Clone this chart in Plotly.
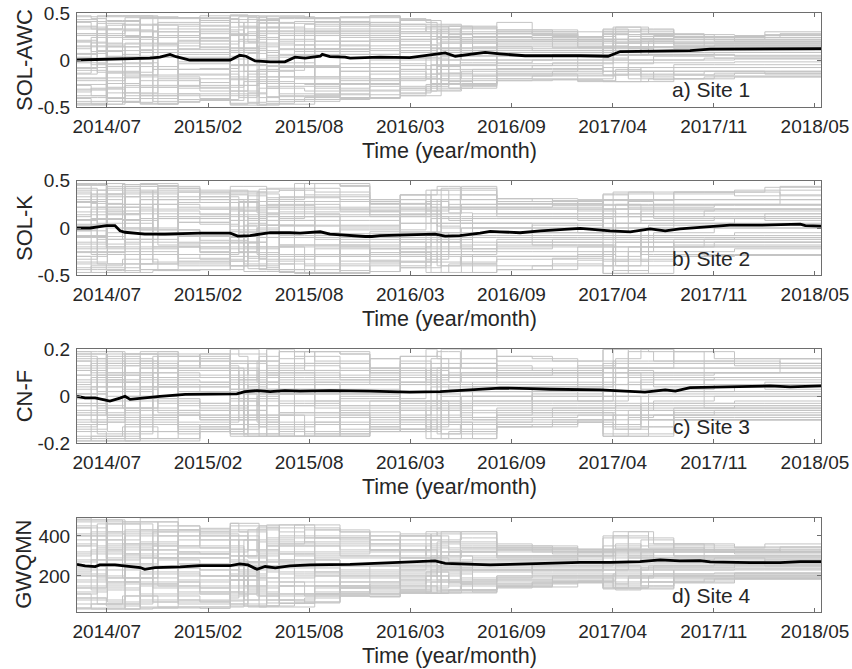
import plotly.graph_objects as go

W, H = 852, 669

# ---------------- shared time axis (day index from series start) ----------------
break_days = [0, 28, 58, 90, 125, 160, 200, 243, 303, 320, 338, 356, 375, 400, 450, 520,
              579, 639, 690, 712, 735, 758, 782, 830, 900, 990, 1040, 1065, 1090, 1115,
              1140, 1180, 1260, 1360]
coarse_break_days = [0, 60, 125, 200, 243, 303, 360, 400, 470, 579, 639, 720, 830, 940, 1040,
                     1180, 1300]
mid_break_days = [0, 40, 95, 150, 243, 303, 330, 375, 430, 520, 579, 639, 700, 760, 830, 990,
                  1060, 1130, 1240, 1390]
end_day = 1471
tick_days = [59, 259, 459, 659, 859, 1059, 1259, 1459]
tick_labels = ["2014/07", "2015/02", "2015/08", "2016/03", "2016/09", "2017/04", "2017/11", "2018/05"]

# ---------------- Site 1 : SOL-AWC (members in 1/100) ----------------
awc_members_x100 = [
    [-46, 40, -20, 12, 47, -34, 3, -8, 28, -41, 20, -27, 35, -14],
    [-46, 33, -20, 18, 44, -30, -5, -8, 28, -47, 9, -38, 35, 24],
    [-25, 33, 42, 18, -44, -30, -5, 14, 47, -47, 9, -12, 26, 3],
    [-25, 38, 42, -35, -44, -16, 22, 14, 47, -3, 31, -12, 6, -45],
    [-38, 38, 8, -35, 46, -16, 22, -29, 47, -3, 31, 15, -46, 1],
    [-38, 26, 8, -20, 46, 40, 33, -29, -47, -10, 17, 15, -46, 3],
    [-30, 26, -15, -20, 45, 40, 33, -42, 20, -10, 6, -4, -36, 12],
    [-30, 30, -15, -24, 44, 37, 17, -42, 23, -9, 6, -4, -36, 11],
    [-47, 30, -15, 40, 44, -20, 17, -42, 4, -9, 27, -33, 10, 48],
    [-47, 12, -27, 40, 36, -20, 46, -5, 4, 22, 27, -33, -40, 48],
    [-35, 12, -27, 45, 36, 7, 46, -5, -45, 22, 30, -15, -40, 19],
    [-35, 42, -10, 45, 24, 7, -48, 31, -45, 14, 30, -15, -25, 19],
    [-44, 42, -10, 35, 24, -30, -48, 31, -18, 14, 3, 47, -25, 8],
    [-44, 20, 45, 35, -6, -30, -38, 28, -18, 12, 3, 47, -25, -11],
    [-40, 20, 45, 30, -6, -33, -38, 28, -18, 12, 38, 44, -26, 5],
    [-40, 15, 46, 30, -12, -33, -22, 38, -4, 24, 38, 6, -26, -41],
    [-40, 15, 46, 30, -12, -33, -22, 38, -4, 24, 40, 6, -26, 47],
    [-36, 22, 44, 10, -12, -30, -22, 38, -4, 30, -18, 3, 16, -38],
    [-26, 22, 40, 10, -20, -33, 5, 30, -10, 35, -18, 3, 16, -28],
    [-26, 32, 18, -7, -20, 12, 5, 30, -32, 35, 24, -14, 2, -28],
    [-14, 32, 18, -7, 8, 12, -30, 27, -32, 22, 24, -14, 36, -23],
    [-14, 10, 30, 18, 8, -27, -30, 27, -3, 22, 34, -20, 36, -23],
    [-25, 10, 30, 18, 25, -27, -10, 14, -3, 28, 34, -20, 5, -17],
    [-22, 8, 30, 16, 25, -14, -10, 14, -3, 28, 40, -20, 5, 20],
    [-21, 8, 27, 16, 22, -14, -6, 10, 0, 30, 26, -17, 5, 20],
    [-22, 8, 20, 16, 22, -14, -6, 10, 0, 25, 13, -17, 5, 20],
    [-22, 15, 20, 28, 22, -8, -16, 10, 2, 25, 13, -17, 33, 5],
    [-10, 15, 30, 28, 8, -8, -16, 22, 2, 18, 35, -23, 33, 5],
    [-10, 25, 30, 12, 8, -20, -4, 22, 14, 18, 35, -23, 20, -12],
    [-18, 25, 33, 12, 20, -20, -4, 6, 14, 28, 23, -8, 20, -12],
    [-18, 10, 33, 25, 20, -12, 4, 6, 26, 28, 23, -8, 14, -21],
    [-20, 10, 27, 25, 18, -12, 4, 6, 22, 24, 15, -5, 14, -16],
    [-17, 12, 25, 20, 18, -12, 2, 8, 22, 24, 15, -5, 16, -14],
    [-17, 12, 27, 20, 18, -15, 2, 8, 30, 24, 15, -5, 16, -14],
]
awc_coarse_x100 = [
    [-44, -32, 41, 7, -19, 26, -3, 46, -38, 14, -11, 33, -26, 19, -48, 2],
    [-44, 17, 41, -29, -19, 26, 37, 46, -7, 14, -41, 33, -14, 4, -35, 24],
    [-22, 17, 30, -29, 45, -36, 37, 11, -7, 3, -41, -16, 44, 4, -47, 24],
    [-22, 36, 30, -10, 45, -36, -2, 11, -45, 21, 8, -16, 44, -28, 15, 26],
    [-33, 36, 20, -10, 42, -38, -2, 28, -43, 21, 8, -16, 47, -27, 13, 33],
    [-33, 10, 20, 43, -46, -38, 28, -6, 35, -21, 8, 47, -12, -27, 13, 1],
    [-47, 10, 39, 43, -18, -30, 28, -6, 35, -21, 16, 22, -12, 46, -40, 1],
    [-47, -25, 39, 11, -18, 31, -36, 45, 6, -8, 16, 22, -42, 46, 26, -3],
    [-37, -25, 12, 11, 40, 31, -36, 45, 6, -18, -42, 20, 26, 36, -8, -30],
    [-37, -15, 12, 22, 40, 31, -41, 47, 6, -20, -28, 20, 26, 36, -8, 0],
    [-30, -15, 36, 22, 2, 28, -38, 42, 13, -20, -28, -6, 16, 33, -10, 8],
    [-30, 28, 36, 0, -22, 10, 18, -10, 13, 33, -17, -6, 24, 4, -26, 20],
    [-16, 28, 24, 0, -22, 10, 18, -10, 32, 14, -17, -6, 24, 4, -9, 20],
    [-16, 22, 24, 6, -21, 10, 18, -10, 25, 14, -12, -3, 13, 4, -9, 20],
    [-16, 30, 18, 6, -23, 27, 10, -12, 32, 14, -12, -3, 13, 22, 0, 20],
    [-12, 24, 18, 6, -20, 27, 10, -16, 25, 12, -8, -3, 13, 22, 0, 16],
    [-12, 24, 18, 4, -18, 26, 10, -14, 22, 12, -8, -2, 13, 20, 1, 16],
]
awc_mid_x100 = [
    [-40, 28, -9, 43, -22, 15, -47, 6, 36, -31, 21, -15],
    [-40, 28, 32, -4, -22, 15, -47, 47, 10, -31, -13, 39],
    [-27, 45, 32, -4, 18, -38, -18, 47, 10, -45, -13, 25],
    [-27, 45, 3, 38, 18, -38, -18, 24, -44, 30, 8, -10],
    [-20, 40, 3, 32, 14, -41, -29, 24, -43, 45, 8, -10],
    [-36, 40, 26, 32, -5, 47, -29, 12, -43, -18, 8, -48],
    [-36, 18, 26, -12, -5, 47, 40, 12, -23, -18, 34, -48],
    [-7, 18, 44, -12, -39, 30, 40, -28, -23, 5, 34, -46],
    [-7, 33, 44, 16, -39, 30, -20, -28, 9, 5, -44, 41],
    [-32, 33, 20, 16, -12, 45, -20, -40, 9, 28, -25, 41],
    [-32, 33, 20, 10, -12, 45, -20, -40, 2, 28, -25, 36],
    [-32, 25, 20, 10, -35, 38, 0, -20, 2, 43, -10, 30],
    [-15, 25, -25, 36, -5, 38, 0, -20, 22, 12, -33, 30],
    [-15, 8, -25, 20, -5, 28, 35, -12, 22, 12, -28, 0],
    [-15, 8, -20, 20, 12, 28, 30, -12, -4, 22, 0, 32],
    [-23, 8, -20, 20, 12, 22, 30, 0, -4, 22, 5, 14],
    [-23, 18, -8, 35, 12, 22, -15, 0, 27, 5, 5, 14],
    [-20, 18, -8, 28, 8, 22, -15, 0, 27, 5, 14, 20],
    [-18, 14, -8, 24, 8, 20, -12, 2, 22, 5, 12, 18],
    [-18, 14, -8, 28, 8, 20, -12, 2, 22, 5, 12, 18],
]
awc_mean_days = [0, 95, 144, 164, 184, 196, 223, 303, 322, 334, 352, 382, 411, 431, 451, 481, 485,
                 500, 530, 540, 599, 658, 678, 728, 748, 807, 836, 886, 995, 1050, 1074, 1133,
                 1212, 1252, 1471]
awc_mean = [0.00, 0.01, 0.02, 0.03, 0.06, 0.035, 0.00, 0.00, 0.05, 0.04, -0.01, -0.02, -0.02,
            0.03, 0.02, 0.04, 0.06, 0.035, 0.03, 0.02, 0.03, 0.025, 0.04, 0.075, 0.04, 0.08,
            0.065, 0.045, 0.045, 0.04, 0.09, 0.095, 0.10, 0.115, 0.12]

# ---------------- Site 2 : SOL-K (members in 1/100) ----------------
solk_members_x100 = [
    [45, -38, 12, -22, 30, -47, 4, 38, -10, 22, -30, -3, 47, -15],
    [45, -38, 20, -22, 30, -40, 4, 26, -10, 35, -47, 10, -28, -15],
    [15, -45, 20, 42, 30, -40, -20, 26, -5, 35, -47, 10, -28, 47],
    [15, -45, 38, 42, -12, -33, -20, 8, -5, 25, -47, 46, -28, 0],
    [30, -25, 38, 10, -12, -33, -44, 8, 20, 25, -38, 46, -2, 0],
    [30, -25, 12, 10, 42, -45, -44, -18, 20, -8, -38, 30, -2, 45],
    [22, -32, 12, 38, 42, -45, -20, -18, 6, -8, -38, 30, -2, 18],
    [22, -32, 4, 38, 33, -44, -20, -25, 6, -8, -38, 27, -13, 14],
    [35, -35, 4, 22, 33, -20, -10, -28, 12, -40, 40, 27, -13, 2],
    [35, -35, 18, 22, -5, -20, -10, 28, 12, -40, 40, -25, -13, 2],
    [10, -15, 18, 34, -5, -32, -43, 28, -20, 5, 22, -25, 12, 2],
    [10, -15, 38, 34, -28, -32, -43, 16, -20, 5, 22, 0, 12, -10],
    [-5, 30, 38, 25, -28, -20, -35, 16, 3, -42, 22, 0, 12, -10],
    [-5, 30, 40, 25, -18, -20, -35, -47, 3, -30, 12, 20, -8, 10],
    [-5, 47, 35, 25, -18, -40, -48, -47, 3, -30, 12, 20, -8, 28],
    [-15, 44, 35, 18, -18, -40, -30, -10, 3, -30, 8, 20, -2, 28],
    [-15, 30, 22, 18, -36, -46, -30, -10, 3, -22, 8, 14, -2, 26],
    [-15, 30, 22, 5, -36, -42, -30, -10, 12, -22, 35, 14, -2, -25],
    [-33, 18, 22, 5, -36, -20, -47, -10, 12, -5, 35, 28, 40, -25],
    [-33, 18, 2, -15, -12, -20, -47, 30, 12, -5, 44, 28, 40, -40],
    [-10, 25, 2, -15, -12, -28, -38, 30, 8, -20, 44, 16, 20, -40],
    [-10, 25, -22, 35, -12, -28, -38, 20, 8, -20, 30, 16, 5, -30],
    [-25, 25, -22, 35, 0, -47, -38, 20, -5, 15, 30, 10, 5, -30],
    [-25, 22, -12, 31, 0, -44, -33, 20, -5, 15, 28, 10, 5, -30],
    [-25, 22, -12, 28, -18, -40, -33, 20, 3, 15, 28, 10, -5, -30],
    [-25, 22, -12, 28, -18, -34, -28, 15, 3, 10, 18, 8, -5, -20],
    [-25, 30, -12, 12, -18, -48, -28, 15, 20, -5, 18, -35, 35, -20],
    [-10, 30, 5, 12, -30, -48, -40, 25, 20, -5, 0, -35, 35, -15],
    [-10, 12, 5, 28, -30, -25, -40, 25, 38, 15, 0, -20, 22, -15],
    [-28, 12, 18, 28, -8, -25, -15, 8, 38, 15, -35, -20, 22, 0],
    [-28, 25, 18, 10, -8, -20, -15, 8, 30, 22, -35, -5, 12, 0],
    [-18, 25, 18, 10, -8, -20, -30, 8, 38, 22, -12, -5, 12, 30],
    [-18, 25, 20, 10, -8, -15, -29, 12, 38, 25, -12, 0, 12, 30],
    [-18, 25, 20, 15, -8, -15, -29, 12, 43, 25, -12, 0, 8, 30],
]
solk_coarse_x100 = [
    [-42, 33, -8, 46, -25, 14, -36, 22, 3, -17, 40, -47, 9, 28, -3, -30],
    [-42, 33, 25, -12, -25, 14, 44, 22, -38, -17, 0, -47, 9, 36, -22, 18],
    [-5, 47, 25, -12, -44, 38, 44, -28, -38, 10, 0, -20, 30, 36, -22, 18],
    [-5, 42, -35, 20, -44, 38, 6, -28, 27, 10, -16, -20, 30, -40, 12, -9],
    [-15, 38, -35, 20, -44, 30, 6, -28, 27, 10, -16, -22, 33, -40, 12, -9],
    [-15, 14, -35, 36, 20, 30, -40, -2, 27, -26, -16, -22, 8, 39, -30, -9],
    [-33, 14, 24, 36, 20, -10, -40, -2, 3, -26, 41, -22, 8, -44, -30, 12],
    [-33, 28, 24, -18, 2, -10, -20, -47, 3, 33, 40, -38, 8, -44, 17, 12],
    [-22, 28, -6, -18, 2, 47, -20, -47, 14, 33, 38, -38, -12, -28, 17, -48],
    [-22, 28, -6, -18, 2, 25, -34, -46, 14, 30, 18, -38, -12, -28, 17, -4],
    [-28, 20, -6, 5, -15, 25, -42, -36, 14, 30, 18, -22, -12, 35, -8, -4],
    [-28, 20, -40, 5, -15, 12, 30, -36, 42, 0, -47, -22, -5, 35, -8, 22],
    [-20, 31, -40, 5, -15, 12, 26, -30, 15, 0, -44, -22, -5, 20, -8, 22],
    [-20, 24, -32, 5, -15, 12, 26, -30, 15, 0, -38, -12, -5, 20, -8, 29],
    [-20, 24, -40, 5, -33, 12, 36, -25, 15, 30, -48, -12, 0, 20, -8, 29],
    [-20, 24, -28, 5, -30, 12, 36, -15, 15, 30, -25, -12, 0, 20, -8, 38],
    [-20, 24, -28, 10, -29, 12, 40, -15, 15, 30, -22, -10, 0, 20, -5, 34],
]
solk_mid_x100 = [
    [36, -20, 8, -44, 27, -9, 47, -33, 17, -2, 42, -26],
    [36, -20, 40, -44, -12, -9, 47, 22, 17, -38, 5, -26],
    [-15, 33, 40, -28, -12, 44, -2, 22, -47, -38, 5, 15],
    [-15, 33, 10, -28, 40, 44, -2, -36, -45, 25, -20, 15],
    [-26, 36, 10, -33, 40, 30, -8, -36, -44, 20, -20, 15],
    [-26, 8, 44, -33, 18, 30, -40, -15, -44, 20, -4, 38],
    [-38, 8, 44, 3, 18, -20, -40, -15, 28, -46, -4, 38],
    [-38, 32, 15, 3, -28, -20, 22, -44, 28, -46, 42, 8],
    [-10, 32, 15, -30, -28, 47, 22, -44, -48, 12, 42, 8],
    [-10, 20, -35, -30, 0, 45, 22, -20, -48, 12, 30, -45],
    [-10, 20, -35, -26, 0, 26, 12, -20, -46, 12, 30, -40],
    [-30, 20, -35, -26, 15, 26, 12, -5, -40, 35, -15, -20],
    [-30, 40, -10, -47, 15, 5, 30, -5, -25, 22, -15, 10],
    [-18, 40, -10, -30, 25, 5, 44, -38, -25, 22, 0, 10],
    [-18, 28, -10, -30, 25, 5, 31, -44, -15, 12, 0, 10],
    [-18, 20, -10, -30, 25, -5, 30, -40, -15, 12, 0, 10],
    [-35, 20, -10, -45, 25, 38, 30, -20, -15, 12, 5, -48],
    [-30, 20, 3, -10, 25, 38, 30, -20, -15, 12, 5, -20],
    [-29, 20, 3, -10, 25, 38, 30, -20, -15, 18, 5, -12],
    [-29, 20, 3, -10, 44, 35, 30, -20, -15, 18, 5, -12],
]
solk_mean_days = [0, 26, 45, 59, 75, 85, 95, 134, 174, 243, 303, 318, 342, 382, 421, 441, 481,
                  500, 570, 583, 599, 678, 708, 728, 757, 797, 817, 836, 876, 916, 955, 995,
                  1054, 1094, 1133, 1163, 1192, 1232, 1291, 1351, 1430, 1440, 1471]
solk_mean = [0.0, 0.0, 0.015, 0.025, 0.025, -0.03, -0.045, -0.065, -0.065, -0.055, -0.055,
             -0.085, -0.08, -0.05, -0.05, -0.055, -0.04, -0.065, -0.09, -0.09, -0.08, -0.07,
             -0.065, -0.085, -0.08, -0.055, -0.035, -0.04, -0.05, -0.03, -0.015, -0.005,
             -0.03, -0.04, -0.01, -0.03, -0.01, 0.005, 0.03, 0.03, 0.04, 0.025, 0.02]

# ---------------- Site 3 : CN-F (members in 1/100) ----------------
cnf_members_x100 = [
    [18, -15, 5, -8, 12, -19, 1, 15, -4, 9, -12, -1, 19, -6],
    [18, -15, 8, -8, 12, -17, 1, 10, -4, 14, -19, 4, -11, -6],
    [6, -18, 8, 17, 12, -17, -8, 10, -2, 14, -19, 4, -11, 19],
    [6, -18, 15, 17, -5, -13, -8, 3, -2, 10, -19, 18, -11, 0],
    [12, -10, 15, 4, -5, -13, -18, 3, 8, 10, -15, 18, -1, 0],
    [12, -10, 5, 4, 17, -18, -18, -7, 8, -3, -15, 12, -1, 19],
    [9, -13, 5, 15, 17, -18, -8, -7, 2, -3, -15, 12, -1, 7],
    [9, -13, 2, 15, 13, -15, -8, -10, 2, -3, -12, 18, -5, 6],
    [14, -14, 2, 9, 13, -8, -4, -11, 5, -16, 20, 11, -5, 1],
    [14, -14, 7, 9, -2, -8, -4, 11, 5, -16, 17, -10, -5, 1],
    [4, -6, 7, 14, -2, -13, -17, 11, -8, 2, 9, -10, 5, 1],
    [4, -6, 15, 14, -11, -13, -17, 6, -8, 2, 9, 0, 5, -4],
    [-2, 12, 15, 10, -11, -8, -14, 6, 1, -17, 9, 0, 20, -4],
    [-2, 12, 16, 10, -7, -8, -14, -17, 1, -12, 5, 8, -3, 19],
    [-2, 19, 14, 10, -7, -16, -17, -12, 1, -12, 5, 8, -3, 11],
    [-6, 18, 14, 7, -7, -16, -12, -4, 1, -12, 3, 8, -1, 11],
    [-6, 12, 9, 7, -14, -15, -12, -4, 1, -9, 3, 16, -1, 10],
    [-6, 12, 9, 2, -14, -15, -12, -4, 5, -9, 17, 6, -1, -10],
    [-13, 7, 9, 2, -14, -8, -18, -4, 5, -2, 17, 11, 20, -10],
    [-13, 7, 1, -6, -5, -8, -18, 12, 5, -2, 19, 11, 16, -16],
    [-4, 10, 1, -6, -5, -11, -15, 12, 3, -8, 19, 6, 8, -16],
    [-4, 10, -9, 14, -5, -11, -15, 8, 3, -8, 12, 6, 2, -12],
    [-10, 10, -9, 14, 0, -18, -15, 8, -2, 6, 12, 4, 2, -12],
    [-10, 9, -5, 13, 0, -13, -11, 8, -2, 6, 17, 4, 2, -8],
    [-10, 9, -5, 11, -7, -12, -9, 8, 1, 6, 16, 4, -2, 3],
    [-10, 9, -5, 11, -7, -10, -8, 6, 1, 4, 15, 3, -2, 13],
    [-10, 12, -5, 5, -7, -17, -8, 6, 8, -2, 15, -12, 20, 13],
    [-4, 12, 2, 5, -12, -17, -14, 10, 8, -2, 0, -12, 20, 16],
    [-4, 5, 2, 11, -12, -9, -14, 10, 19, 6, 0, -6, 9, 16],
    [-10, 5, 7, 11, -3, -9, -6, 3, 19, 6, -13, -6, 9, 20],
    [-10, 10, 7, 4, -3, -8, -6, 3, 15, 9, -13, -2, 5, 20],
    [-7, 10, 7, 4, -3, -8, -10, 3, 19, 9, -5, -2, 5, 14],
    [-7, 10, 8, 4, -3, -6, -10, 5, 16, 10, -5, 0, 5, 14],
    [-7, 10, 8, 6, -3, -6, -10, 5, 16, 10, -5, 0, 3, 14],
]
cnf_coarse_x100 = [
    [-17, 13, -3, 18, -10, 6, -14, 9, 1, -7, 16, -19, 4, 11, -1, -12],
    [-17, 13, 10, -5, -10, 6, 18, 9, -15, -7, 0, -19, 4, 14, -9, 7],
    [-2, 19, 10, -5, -18, 15, 18, -11, -15, 4, 0, -8, 12, 14, -9, 7],
    [-2, 17, -14, 8, -18, 15, 2, -11, 11, 4, -6, -8, 12, -16, 5, -4],
    [-6, 16, -14, 8, -15, 12, 2, -11, 11, 4, -6, -9, 18, -13, 5, -4],
    [-6, 6, -14, 15, 8, 12, -16, -1, 11, -10, -6, -9, 3, 20, -12, -4],
    [-13, 6, 10, 15, 8, -4, -16, -1, 1, -10, 17, -9, 3, -17, -12, 5],
    [-13, 11, 10, -7, 1, -4, -8, -17, 1, 14, 19, -15, 3, -17, 7, 5],
    [-9, 11, -2, -7, 1, 19, -8, -17, 6, 14, 15, -15, -5, -11, 7, -16],
    [-9, 11, -2, -7, 1, 10, -13, -15, 6, 12, 16, -15, -5, -11, 7, -2],
    [-11, 8, -2, 2, -6, 10, -15, -14, 6, 12, 17, -9, -5, 14, -3, -2],
    [-11, 8, -16, 2, -6, 5, 12, -14, 20, 0, -18, -9, -2, 14, -3, 9],
    [-8, 12, -13, 2, -6, 5, 10, -11, 17, 0, -12, -9, -2, 8, -3, 9],
    [-8, 10, -11, 2, -6, 5, 10, -11, 15, 0, -10, -5, -2, 8, -3, 12],
    [-8, 10, -17, 2, -13, 5, 14, -10, 20, 12, -16, -5, 0, 8, -3, 12],
    [-8, 10, -10, 2, -10, 5, 14, -6, 19, 12, -9, -5, 0, 8, -3, 15],
    [-8, 10, -10, 4, -10, 5, 16, -6, 14, 12, -9, -4, 0, 8, -2, 13],
]
cnf_mid_x100 = [
    [15, -8, 3, -18, 11, -4, 19, -13, 7, -1, 17, -11],
    [15, -8, 16, -18, -5, -4, 19, 9, 7, -16, 2, -11],
    [-6, 13, 16, -12, -5, 18, -1, 9, -19, -16, 2, 6],
    [-6, 13, 4, -12, 17, 18, -1, -15, -19, 10, -8, 6],
    [-10, 15, 4, -14, 17, 12, -3, -15, -15, 8, -8, 6],
    [-10, 3, 18, -14, 7, 12, -17, -6, -15, 8, -2, 15],
    [-16, 3, 18, 1, 7, -8, -17, -6, 11, -17, -2, 15],
    [-16, 13, 6, 1, -11, -8, 9, -17, 11, -17, 20, 3],
    [-4, 13, 6, -12, -11, 19, 9, -17, -17, 5, 17, 3],
    [-4, 8, -14, -12, 0, 18, 9, -8, -17, 5, 12, -17],
    [-4, 8, -14, -10, 0, 11, 5, -8, -15, 5, 12, -13],
    [-12, 8, -14, -10, 6, 11, 5, -2, -15, 15, -6, -8],
    [-12, 16, -4, -18, 6, 2, 12, -2, -10, 9, -6, 4],
    [-7, 16, -4, -12, 10, 2, 20, -15, -10, 9, 0, 4],
    [-7, 11, -4, -12, 10, 2, 15, -13, -6, 5, 0, 4],
    [-7, 8, -4, -11, 10, -2, 12, -10, -6, 5, 0, 4],
    [-14, 8, -4, -17, 10, 15, 12, -8, -6, 5, 2, 20],
    [-10, 8, 1, -4, 10, 15, 12, -8, -6, 5, 2, 19],
    [-10, 8, 1, -4, 10, 15, 12, -8, -6, 7, 2, -5],
    [-10, 8, 1, -4, 16, 14, 12, -8, -6, 7, 2, -5],
]
cnf_mean_days = [0, 16, 36, 55, 65, 85, 95, 105, 125, 164, 214, 303, 316, 332, 356, 382, 411,
                 441, 500, 579, 658, 718, 777, 836, 896, 935, 1034, 1064, 1123, 1163, 1183,
                 1212, 1272, 1370, 1410, 1471]
cnf_mean = [0.0, -0.007, -0.007, -0.017, -0.02, -0.008, 0.0, -0.013, -0.008, 0.0, 0.008, 0.008,
            0.01, 0.02, 0.024, 0.02, 0.024, 0.022, 0.024, 0.022, 0.018, 0.02, 0.028, 0.035,
            0.033, 0.03, 0.027, 0.024, 0.018, 0.027, 0.022, 0.037, 0.04, 0.044, 0.04, 0.044]

# ---------------- Site 4 : GWQMN ----------------
gwqmn_members = [
    [470, 90, 300, 180, 400, 40, 250, 440, 140, 350, 110, 220, 490, 200],
    [470, 90, 330, 180, 400, 60, 250, 380, 140, 420, 35, 280, 130, 200],
    [290, 50, 330, 460, 400, 60, 170, 380, 230, 420, 35, 280, 130, 480],
    [290, 50, 410, 460, 190, 100, 170, 300, 230, 360, 35, 470, 130, 260],
    [370, 160, 410, 290, 190, 100, 40, 300, 330, 360, 80, 470, 210, 260],
    [370, 160, 280, 290, 450, 45, 40, 150, 330, 240, 80, 400, 210, 470],
    [340, 120, 280, 430, 450, 45, 170, 150, 260, 240, 80, 400, 210, 320],
    [340, 120, 230, 430, 380, 38, 170, 110, 260, 200, 70, 410, 150, 310],
    [400, 100, 230, 320, 380, 200, 180, 90, 280, 60, 463, 410, 150, 250],
    [400, 100, 300, 320, 220, 200, 180, 380, 280, 60, 420, 110, 150, 250],
    [290, 200, 300, 430, 220, 130, 45, 380, 150, 260, 330, 110, 270, 250],
    [290, 200, 440, 430, 100, 130, 45, 320, 150, 260, 330, 240, 270, 190],
    [220, 360, 440, 350, 100, 170, 80, 320, 250, 50, 330, 240, 455, 190],
    [220, 360, 420, 350, 150, 170, 80, 63, 250, 110, 280, 310, 210, 455],
    [220, 430, 390, 350, 150, 100, 70, 90, 250, 110, 280, 310, 210, 370],
    [190, 420, 390, 300, 150, 100, 140, 210, 250, 110, 260, 310, 230, 370],
    [190, 350, 330, 300, 110, 96, 140, 210, 250, 160, 260, 420, 230, 360],
    [190, 350, 330, 260, 115, 130, 140, 210, 290, 160, 400, 300, 230, 150],
    [140, 300, 330, 260, 115, 200, 113, 210, 290, 220, 400, 350, 421, 150],
    [140, 300, 250, 180, 240, 200, 113, 370, 290, 220, 420, 350, 400, 125],
    [210, 320, 250, 180, 240, 170, 130, 370, 270, 160, 420, 300, 330, 125],
    [210, 320, 160, 390, 240, 170, 130, 340, 270, 160, 350, 300, 260, 150],
    [180, 320, 160, 390, 260, 120, 130, 340, 230, 290, 350, 280, 260, 150],
    [180, 300, 200, 360, 260, 140, 150, 330, 230, 290, 340, 280, 260, 190],
    [180, 300, 200, 340, 210, 165, 170, 330, 250, 290, 320, 280, 230, 260],
    [180, 300, 200, 330, 210, 170, 175, 300, 250, 270, 320, 280, 230, 320],
    [180, 330, 200, 260, 210, 140, 175, 300, 310, 230, 320, 160, 400, 320],
    [220, 330, 270, 260, 160, 140, 130, 360, 310, 230, 250, 160, 400, 340],
    [220, 290, 270, 330, 160, 200, 130, 360, 421, 300, 250, 190, 310, 340],
    [170, 290, 320, 330, 240, 200, 230, 280, 421, 300, 150, 190, 310, 380],
    [170, 320, 320, 270, 240, 210, 230, 280, 360, 330, 150, 250, 290, 380],
    [190, 320, 300, 270, 240, 210, 170, 280, 360, 330, 230, 250, 290, 340],
    [190, 320, 300, 270, 240, 215, 185, 290, 340, 330, 230, 260, 290, 320],
    [190, 320, 300, 280, 240, 215, 185, 290, 360, 330, 230, 260, 250, 320],
]
gwqmn_coarse = [
    [60, 380, 230, 480, 140, 310, 90, 350, 250, 170, 440, 35, 280, 400, 210, 120],
    [60, 380, 360, 190, 140, 310, 470, 350, 70, 170, 250, 35, 280, 420, 160, 330],
    [220, 490, 360, 190, 45, 430, 470, 110, 70, 290, 250, 150, 350, 420, 160, 330],
    [220, 450, 80, 320, 45, 430, 260, 110, 380, 290, 180, 150, 350, 60, 310, 200],
    [200, 420, 80, 320, 45, 400, 260, 110, 380, 290, 180, 140, 438, 60, 310, 200],
    [200, 300, 80, 430, 330, 400, 50, 230, 380, 120, 180, 140, 270, 463, 110, 200],
    [100, 300, 370, 430, 330, 190, 50, 230, 250, 120, 450, 140, 270, 45, 110, 310],
    [100, 360, 370, 170, 260, 190, 150, 63, 250, 400, 455, 80, 270, 45, 320, 310],
    [150, 360, 220, 170, 260, 430, 150, 100, 290, 400, 390, 110, 200, 140, 320, 120],
    [150, 360, 220, 170, 260, 330, 110, 96, 290, 380, 400, 110, 200, 140, 320, 250],
    [130, 320, 220, 240, 180, 330, 113, 120, 290, 380, 400, 170, 200, 360, 230, 250],
    [130, 320, 130, 240, 180, 270, 370, 120, 421, 230, 115, 170, 220, 360, 230, 320],
    [160, 350, 150, 240, 180, 270, 340, 150, 330, 230, 145, 170, 220, 290, 230, 320],
    [170, 320, 165, 240, 190, 270, 320, 170, 310, 230, 175, 200, 220, 290, 230, 335],
    [170, 320, 135, 240, 150, 270, 390, 190, 330, 350, 140, 200, 250, 290, 230, 335],
    [170, 320, 180, 240, 165, 270, 350, 200, 330, 300, 190, 200, 250, 290, 230, 360],
    [190, 320, 185, 260, 190, 270, 340, 210, 310, 300, 200, 215, 250, 290, 235, 345],
]
gwqmn_mid = [
    [410, 150, 270, 40, 360, 200, 480, 110, 320, 240, 450, 80],
    [410, 150, 460, 40, 190, 200, 480, 340, 320, 60, 260, 80],
    [170, 430, 460, 100, 190, 400, 240, 340, 35, 60, 260, 310],
    [170, 430, 290, 100, 420, 400, 240, 70, 40, 350, 140, 310],
    [120, 400, 290, 75, 420, 350, 230, 70, 45, 340, 140, 310],
    [120, 250, 450, 75, 300, 350, 60, 180, 45, 340, 210, 420],
    [80, 250, 450, 270, 300, 150, 60, 180, 380, 50, 210, 420],
    [80, 390, 280, 270, 110, 150, 350, 65, 380, 50, 440, 240],
    [200, 390, 280, 110, 110, 455, 350, 65, 70, 300, 440, 240],
    [200, 330, 120, 110, 250, 420, 350, 170, 100, 300, 380, 140],
    [200, 330, 120, 130, 250, 400, 330, 170, 100, 300, 380, 150],
    [150, 330, 120, 130, 290, 400, 330, 250, 120, 410, 200, 180],
    [150, 410, 230, 115, 290, 280, 380, 250, 170, 340, 200, 300],
    [190, 410, 230, 160, 330, 280, 421, 130, 170, 340, 250, 300],
    [190, 350, 230, 160, 330, 280, 340, 145, 200, 300, 250, 300],
    [190, 330, 230, 170, 320, 260, 330, 170, 200, 300, 250, 300],
    [140, 330, 230, 140, 320, 400, 330, 210, 200, 300, 260, 421],
    [170, 330, 250, 200, 320, 360, 330, 210, 200, 300, 260, 340],
    [185, 330, 250, 200, 320, 330, 320, 210, 200, 300, 260, 280],
    [185, 330, 250, 200, 345, 320, 320, 210, 200, 300, 260, 280],
]
gwqmn_mean_days = [0, 16, 36, 45, 75, 105, 125, 134, 154, 204, 243, 303, 322, 338, 356, 372, 392,
                   421, 461, 540, 599, 658, 708, 728, 777, 817, 856, 916, 995, 1054, 1113, 1153,
                   1192, 1232, 1252, 1331, 1390, 1430, 1471]
gwqmn_mean = [258, 250, 247, 255, 255, 247, 242, 233, 242, 245, 252, 252, 260, 255, 233, 247,
              240, 250, 255, 258, 263, 268, 275, 263, 260, 255, 258, 263, 268, 268, 272, 280,
              275, 277, 270, 267, 267, 272, 272]

# ---------------- layout helpers (pixel geometry) ----------------
PLOT_LEFT, PLOT_RIGHT = 77, 821
GRAY = "rgb(196,196,196)"
AXIS_COLOR = "rgb(110,110,110)"
TEXT_COLOR = "rgb(38,38,38)"
FONT = "Liberation Sans, Arial, Helvetica, sans-serif"

panels = [
    dict(title="SOL-AWC", top=13, bottom=107, yrange=[-0.5, 0.5], tv=[-0.5, 0, 0.5],
         tt=["-0.5", "0", "0.5"], tag="a) Site 1",
         groups=[awc_members_x100, awc_coarse_x100, awc_mid_x100],
         unit=0.01, md=awc_mean_days, mv=awc_mean),
    dict(title="SOL-K", top=180.7, bottom=275.3, yrange=[-0.5, 0.5], tv=[-0.5, 0, 0.5],
         tt=["-0.5", "0", "0.5"], tag="b) Site 2",
         groups=[solk_members_x100, solk_coarse_x100, solk_mid_x100],
         unit=0.01, md=solk_mean_days, mv=solk_mean),
    dict(title="CN-F", top=349.3, bottom=443.3, yrange=[-0.2, 0.2], tv=[-0.2, 0, 0.2],
         tt=["-0.2", "0", "0.2"], tag="c) Site 3",
         groups=[cnf_members_x100, cnf_coarse_x100, cnf_mid_x100],
         unit=0.01, md=cnf_mean_days, mv=cnf_mean),
    dict(title="GWQMN", top=517.7, bottom=612, yrange=[20, 491], tv=[200, 400],
         tt=["200", "400"], tag="d) Site 4",
         groups=[gwqmn_members, gwqmn_coarse, gwqmn_mid],
         unit=1, md=gwqmn_mean_days, mv=gwqmn_mean),
]
group_breaks = [break_days, coarse_break_days, mid_break_days]

def px_x(px):
    return px / W

def px_y(py):
    return 1 - py / H

fig = go.Figure()
annotations = []
layout_axes = {}

for i, p in enumerate(panels):
    n = i + 1
    xa = "x" if n == 1 else f"x{n}"
    ya = "y" if n == 1 else f"y{n}"
    for breaks, group in zip(group_breaks, p["groups"]):
        xs = breaks + [end_day]
        for m in range(len(group[0])):
            ys = [seg[m] * p["unit"] for seg in group]
            ys = ys + [ys[-1]]
            fig.add_trace(go.Scatter(x=xs, y=ys, mode="lines",
                                     line=dict(color=GRAY, width=1, shape="hv"),
                                     xaxis=xa, yaxis=ya, showlegend=False, hoverinfo="skip"))
    fig.add_trace(go.Scatter(x=p["md"], y=p["mv"], mode="lines", line=dict(color="black", width=2.8),
                             xaxis=xa, yaxis=ya, showlegend=False))

    xkey = "xaxis" if n == 1 else f"xaxis{n}"
    ykey = "yaxis" if n == 1 else f"yaxis{n}"
    layout_axes[xkey] = dict(
        domain=[px_x(PLOT_LEFT), px_x(PLOT_RIGHT)], anchor=ya, range=[0, end_day],
        tickmode="array", tickvals=tick_days, ticktext=tick_labels,
        ticks="inside", ticklen=4, tickwidth=1, tickcolor=AXIS_COLOR,
        showline=True, linecolor=AXIS_COLOR, linewidth=1, mirror="ticks",
        showgrid=False, zeroline=False, automargin=False,
        tickfont=dict(family=FONT, size=19, color=TEXT_COLOR), ticklabelstandoff=2)
    layout_axes[ykey] = dict(
        domain=[px_y(p["bottom"]), px_y(p["top"])], anchor=xa, range=p["yrange"],
        tickmode="array", tickvals=p["tv"], ticktext=p["tt"],
        ticks="inside", ticklen=4, tickwidth=1, tickcolor=AXIS_COLOR,
        showline=True, linecolor=AXIS_COLOR, linewidth=1, mirror="ticks",
        showgrid=False, zeroline=False, automargin=False,
        tickfont=dict(family=FONT, size=19, color=TEXT_COLOR), ticklabelstandoff=2)

    mid = (p["top"] + p["bottom"]) / 2
    annotations.append(dict(text=p["title"], x=px_x(24), y=px_y(mid), xref="paper", yref="paper",
                            textangle=-90, showarrow=False, xanchor="center", yanchor="middle",
                            font=dict(family=FONT, size=22, color=TEXT_COLOR)))
    annotations.append(dict(text="Time (year/month)", x=px_x(449), y=px_y(p["bottom"] + 44),
                            xref="paper", yref="paper", showarrow=False,
                            xanchor="center", yanchor="middle",
                            font=dict(family=FONT, size=21.5, color=TEXT_COLOR)))
    annotations.append(dict(text=p["tag"], x=px_x(711), y=px_y(p["bottom"] - 17),
                            xref="paper", yref="paper", showarrow=False,
                            xanchor="center", yanchor="middle",
                            font=dict(family=FONT, size=21, color=TEXT_COLOR)))

fig.update_layout(
    template="none",
    width=W, height=H, margin=dict(l=0, r=0, t=0, b=0, pad=0),
    paper_bgcolor="white", plot_bgcolor="white",
    annotations=annotations, showlegend=False, **layout_axes)

fig.write_html("out.html")
